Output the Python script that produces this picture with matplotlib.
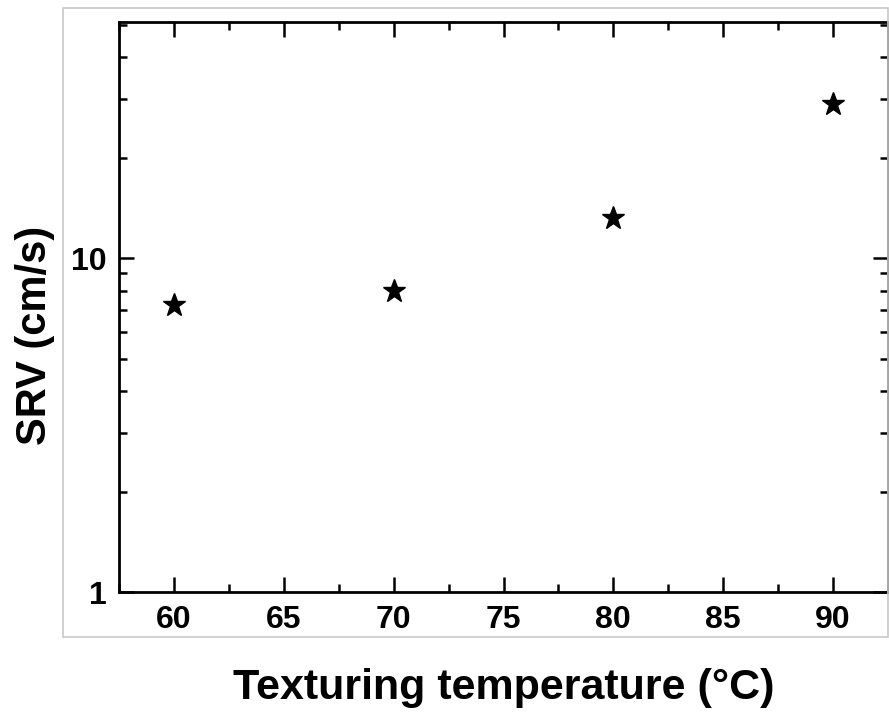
import matplotlib
matplotlib.use("Agg")
import matplotlib.pyplot as plt
import numpy as np
from matplotlib.ticker import FixedLocator, FixedFormatter, LogLocator, NullFormatter, MultipleLocator
from matplotlib.patches import Rectangle

# data
Temperature = [60, 70, 80, 90]
SRV = [7.25, 8.0, 13.2, 29.0]

xticks = [60, 65, 70, 75, 80, 85, 90]

plt.rcParams['font.family'] = ['Liberation Sans', 'DejaVu Sans']
plt.rcParams['font.weight'] = 'bold'

fig = plt.figure(figsize=(8.89, 7.19), dpi=100)
ax = fig.add_axes([119/889, 127/719, (888-119)/889, (592-22)/719])

# light gray frame around the plot area
fig.patches.append(Rectangle((63/889, (719-637)/719), (888-63)/889, (637-8)/719,
                             transform=fig.transFigure, fill=False,
                             edgecolor="#c8c8c8", lw=1.2))

ax.plot(Temperature, SRV, linestyle="none", marker="*", color="black", markersize=17)

ax.set_yscale("log")
ax.set_xlim(57.5, 92.5)
ax.set_ylim(1, 51)

ax.xaxis.set_major_locator(FixedLocator(xticks))
ax.xaxis.set_minor_locator(MultipleLocator(2.5))
ax.yaxis.set_major_locator(FixedLocator([1, 10]))
ax.yaxis.set_major_formatter(FixedFormatter(["1", "10"]))
ax.yaxis.set_minor_locator(LogLocator(base=10, subs=np.arange(2, 10)))
ax.yaxis.set_minor_formatter(NullFormatter())

for s in ax.spines.values():
    s.set_linewidth(2)
ax.tick_params(which="both", direction="in", top=True, right=True, width=1.8)
ax.tick_params(which="major", length=11, labelsize=23, pad=9)
ax.tick_params(which="minor", length=6)
for lab in ax.get_xticklabels() + ax.get_yticklabels():
    lab.set_fontweight("bold")

ax.set_xlabel("Texturing temperature (°C)", fontsize=31, fontweight="bold", labelpad=24)
ax.set_ylabel("SRV (cm/s)", fontsize=30, fontweight="bold")
ax.yaxis.set_label_coords(-0.083, 0.45)

plt.savefig("out.png", dpi=100)
